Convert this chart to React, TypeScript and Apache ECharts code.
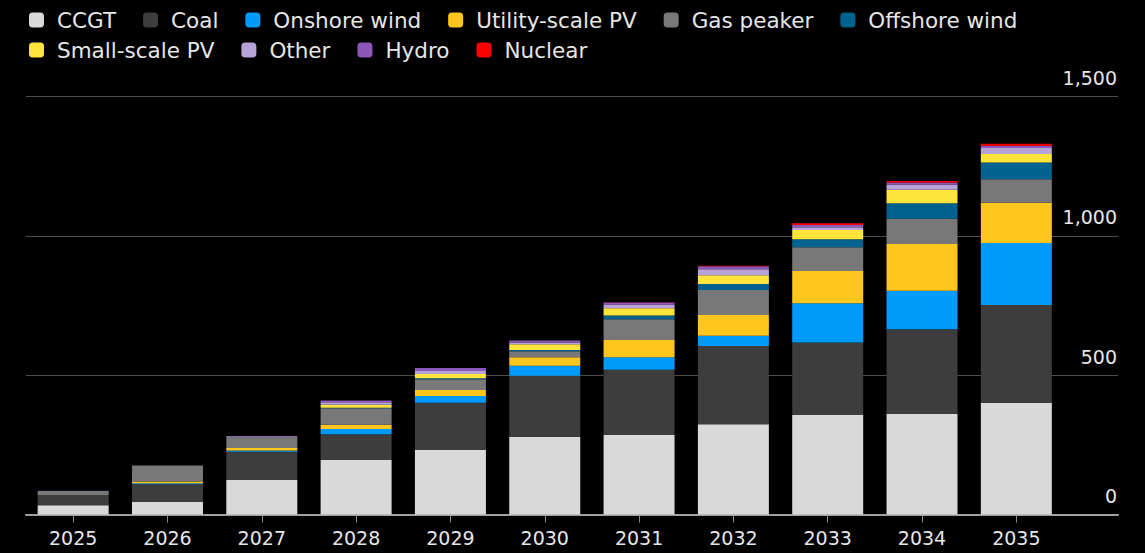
import React, { useEffect, useRef } from "react";
import * as echarts from "echarts";

const years = ["2025", "2026", "2027", "2028", "2029", "2030", "2031", "2032", "2033", "2034", "2035"];

const ccgt = [33, 45, 124, 196, 232, 279, 285, 324, 357, 361, 401];
const coal = [36, 64, 101, 92, 169, 219, 234, 281, 260, 304, 351];
const onshoreWind = [0, 3, 5, 19, 24, 36, 45, 36, 141, 138, 222];
const utilityPV = [0, 6, 9, 15, 22, 30, 62, 75, 116, 168, 145];
const gasPeaker = [15, 58, 38, 59, 38, 22, 75, 90, 85, 90, 84];
const offshoreWind = [1, 0, 0, 2, 4, 4, 13, 21, 29, 56, 60];
const smallPV = [0, 0, 0, 11, 15, 21, 26, 32, 33, 48, 31];
const other = [0, 0, 4, 9, 11, 6, 14, 21, 10, 18, 21];
const hydro = [0, 0, 1, 6, 11, 7, 7, 11, 8, 8, 8];
const nuclear = [0, 0, 0, 0, 0, 0, 1, 2, 6, 6, 7];

const seriesNames = [
  "CCGT",
  "Coal",
  "Onshore wind",
  "Utility-scale PV",
  "Gas peaker",
  "Offshore wind",
  "Small-scale PV",
  "Other",
  "Hydro",
  "Nuclear",
];
const seriesData = [ccgt, coal, onshoreWind, utilityPV, gasPeaker, offshoreWind, smallPV, other, hydro, nuclear];
const seriesColors = [
  "#d9d9d9",
  "#3d3d3d",
  "#009bfa",
  "#ffc61e",
  "#787878",
  "#00638f",
  "#ffe53b",
  "#b7a3d8",
  "#8c57b8",
  "#ff0000",
];

const yTicks = { min: 0, max: 1500, interval: 500 };

const FONT = "DejaVu Sans";
const TEXT = "#e6e6e6";

export default function App() {
  const ref = useRef<HTMLDivElement>(null);

  useEffect(() => {
    if (!ref.current) return;
    const chart = echarts.init(ref.current, null, { renderer: "svg" });

    const legendCommon = {
      left: 29,
      padding: 0,
      itemWidth: 15,
      itemHeight: 15,
      itemGap: 27,
      icon: "roundRect",
      selectedMode: false,
      textStyle: { color: TEXT, fontSize: 21.5, fontFamily: FONT, padding: [0, 0, 0, 8] },
    };

    const option: any = {
      animation: false,
      backgroundColor: "#000000",
      textStyle: { fontFamily: FONT },
      legend: [
        { ...legendCommon, top: 9, data: seriesNames.slice(0, 6) },
        { ...legendCommon, top: 39, data: seriesNames.slice(6) },
      ],
      grid: [
        { left: 26, right: 27, top: 96.5, bottom: 38.5 },
        { left: 26, width: 1037.5, top: 96.5, bottom: 38.5 },
      ],
      xAxis: [
        {
          type: "category",
          gridIndex: 0,
          data: [""],
          axisLine: { show: true, lineStyle: { color: "#a0a0a0", width: 2 } },
          axisTick: { show: false },
          axisLabel: { show: false },
          splitLine: { show: false },
        },
        {
          type: "category",
          gridIndex: 1,
          data: years,
          axisLine: { show: false },
          axisTick: { show: true, alignWithLabel: true, length: 8, lineStyle: { color: "#8c8c8c", width: 1 } },
          axisLabel: { color: TEXT, fontSize: 19, fontFamily: FONT, margin: 14 },
        },
      ],
      yAxis: [
        {
          type: "value",
          gridIndex: 0,
          position: "right",
          ...yTicks,
          axisLine: { show: false },
          axisTick: { show: false },
          splitLine: { show: true, lineStyle: { color: "#4d4d4d", width: 1 } },
          axisLabel: {
            inside: true,
            margin: 1,
            verticalAlign: "bottom",
            padding: [0, 0, 9, 0],
            color: TEXT,
            fontSize: 19,
            fontFamily: FONT,
          },
        },
        {
          type: "value",
          gridIndex: 1,
          ...yTicks,
          show: false,
        },
      ],
      series: seriesNames.map((name, i) => ({
        name,
        type: "bar",
        stack: "total",
        xAxisIndex: 1,
        yAxisIndex: 1,
        barWidth: 71,
        data: seriesData[i],
        itemStyle: { color: seriesColors[i] },
      })),
    };

    chart.setOption(option);
    return () => chart.dispose();
  }, []);

  return (
    <div
      ref={ref}
      style={{ position: "fixed", left: 0, top: 0, width: 1145, height: 553, background: "#000" }}
    />
  );
}
